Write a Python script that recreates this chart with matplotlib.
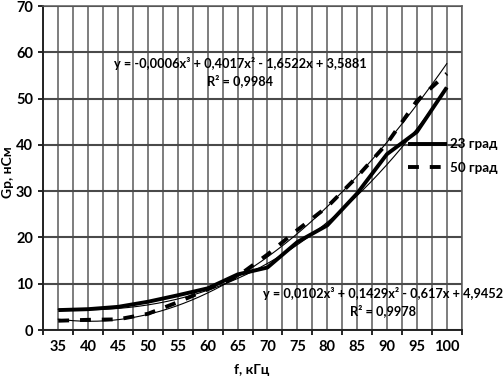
import numpy as np
import matplotlib
matplotlib.use("Agg")
import matplotlib.pyplot as plt

# ---- data ----
freq = [35, 40, 45, 50, 55, 60, 65, 70, 75, 80, 85, 90, 95, 100]
gp_23 = [4.3, 4.5, 5.0, 6.1, 7.5, 9.0, 12.0, 13.5, 19.0, 22.6, 29.5, 38.0, 42.8, 52.4]
gp_50 = [2.0, 2.2, 2.3, 3.5, 6.0, 8.8, 11.6, 16.3, 21.6, 26.6, 33.1, 40.3, 49.5, 55.4]
coef_50 = [-0.0006, 0.4017, -1.6522, 3.5881]   # trend in point index 1..N
coef_23 = [0.0102, 0.1429, -0.617, 4.9452]
eq_50 = "y = -0,0006x³ + 0,4017x² - 1,6522x + 3,5881"
r2_50 = "R² = 0,9984"
eq_23 = "y = 0,0102x³ + 0,1429x² - 0,617x + 4,9452"
r2_23 = "R² = 0,9978"
labels = ["23 град", "50 град"]
xlabel = "f, кГц"
ylabel = "Gp, нСм"
yticks = [0, 10, 20, 30, 40, 50, 60, 70]

plt.rcParams['font.family'] = ['Lato', 'Open Sans', 'DejaVu Sans']
plt.rcParams['font.weight'] = 'bold'

W, H = 504, 380
fig = plt.figure(figsize=(W / 100, H / 100), dpi=100)
ax = fig.add_axes([43.3 / W, 1 - 330 / H, (461.7 - 43.3) / W, (330 - 6) / H])

step = freq[1] - freq[0]
x0 = freq[0] - step / 2
x1 = freq[-1] + step / 2

# trendlines (thin)
t = np.linspace(1, len(freq), 200)
tf = freq[0] + (t - 1) * step
ax.plot(tf, np.polyval(coef_50, t), color='black', lw=0.8, zorder=3)
ax.plot(tf, np.polyval(coef_23, t), color='black', lw=0.8, zorder=3)

l1, = ax.plot(freq, gp_23, color='black', lw=2.8, zorder=4, solid_capstyle='butt',
              solid_joinstyle='round')
l2, = ax.plot(freq, gp_50, color='black', lw=2.8, zorder=4, dashes=(2.8, 2.8))

ax.set_xlim(x0, x1)
ax.set_ylim(yticks[0], yticks[-1])
ax.set_yticks(yticks)
ax.set_xticks(np.arange(x0, x1 + 0.1, step))
ax.set_xticklabels([])
ax.set_xticks(freq, minor=True)
ax.set_xticklabels([str(f) for f in freq], minor=True)
ax.tick_params(axis='x', which='major', length=3.5, width=1.2, direction='out')
ax.tick_params(axis='x', which='minor', length=0, pad=7, labelsize=10.5)
ax.tick_params(axis='y', length=3.5, width=1.2, direction='out', pad=4, labelsize=10.5)
for lab in ax.get_xticklabels(minor=True) + ax.get_yticklabels():
    lab.set_fontweight('bold')

ax.grid(axis='y', which='major', color='#4a4a4a', lw=1.5)
ax.grid(axis='x', which='both', color='#5a5a5a', lw=1.1)
ax.set_axisbelow(True)
for s in ['left', 'bottom']:
    ax.spines[s].set_color('#222222')
    ax.spines[s].set_linewidth(1.4)
for s in ['top', 'right']:
    ax.spines[s].set_color('#5a5a5a')
    ax.spines[s].set_linewidth(1.1)

ax.set_xlabel(xlabel, fontsize=10, fontweight='bold', va='center')
ax.xaxis.set_label_coords((252 - 43.3) / 418.4, -(370 - 330) / 324)
ax.set_ylabel(ylabel, fontsize=10, fontweight='bold', va='center')
ax.yaxis.set_label_coords(-(43.3 - 8) / 418.4, (330 - 172) / 324)

def px(x, y):
    return x / W, 1 - y / H

fs_eq = 9.2
fig.text(*px(240, 63), eq_50, ha='center', va='center', fontsize=fs_eq, fontweight='bold')
fig.text(*px(240, 80.5), r2_50, ha='center', va='center', fontsize=fs_eq, fontweight='bold')
fig.text(*px(383, 294), eq_23, ha='center', va='center', fontsize=fs_eq, fontweight='bold')
fig.text(*px(383, 311), r2_23, ha='center', va='center', fontsize=fs_eq, fontweight='bold')

leg = ax.legend([l1, l2], labels, loc='upper left',
                bbox_to_anchor=(403 / W, 1 - 133 / H), bbox_transform=fig.transFigure,
                frameon=False, fontsize=9.6, handlelength=2.9, handletextpad=0.2,
                labelspacing=0.85, borderaxespad=0)
for txt in leg.get_texts():
    txt.set_fontweight('bold')

fig.savefig("out.png", dpi=100)
